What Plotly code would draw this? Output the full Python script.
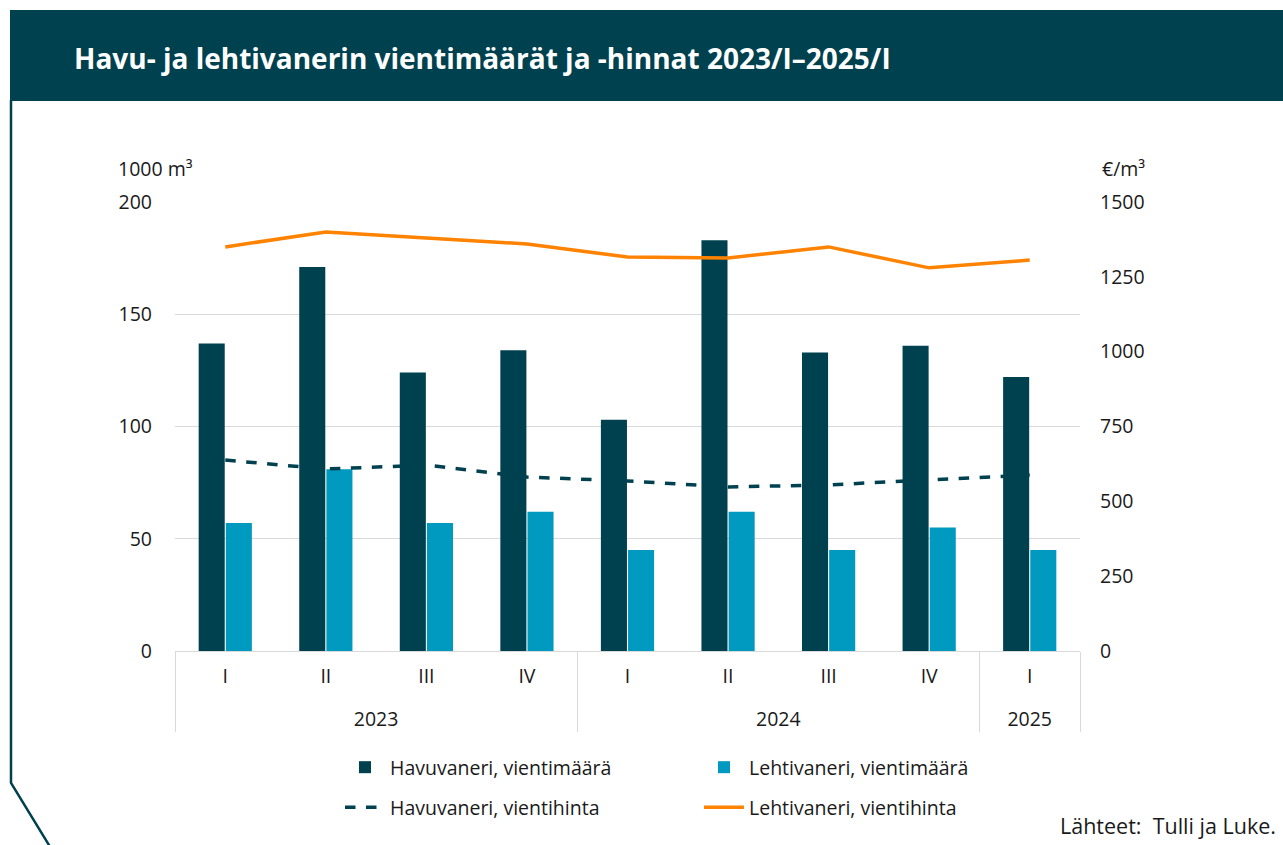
import plotly.graph_objects as go

years = ["2023", "2023", "2023", "2023", "2024", "2024", "2024", "2024", "2025"]
quarters = ["I", "II", "III", "IV", "I", "II", "III", "IV", "I"]
havu_maara = [137, 171, 124, 134, 103, 183, 133, 136, 122]
lehti_maara = [57, 81, 57, 62, 45, 62, 45, 55, 45]
havu_hinta = [638, 608, 621, 581, 568, 548, 555, 571, 588]
lehti_hinta = [1350, 1400, 1380, 1360, 1316, 1313, 1350, 1280, 1306]
left_ticks = [0, 50, 100, 150, 200]
right_ticks = [0, 250, 500, 750, 1000, 1250, 1500]

W, H = 1283, 845
L, R, T, B = 175, 1080, 202, 651
DARK = "#004150"
LIGHT = "#0099BF"
ORANGE = "#FF8200"
FONT = "Open Sans"
FS = 19.5

def px(xp):
    return (xp - L) / (R - L)

def py(yp):
    return (B - yp) / (B - T)

# quarter labels get an extra small blank line so that the year row sits lower
x = [years, [q + "<br><span style='font-size:8px'>\u00a0</span>" for q in quarters]]
fig = go.Figure()
fig.add_trace(go.Bar(x=x, y=havu_maara, name="Havuvaneri, vientimäärä",
                     marker=dict(color=DARK, line=dict(width=0)), legend="legend"))
fig.add_trace(go.Bar(x=x, y=lehti_maara, name="Lehtivaneri, vientimäärä",
                     marker=dict(color=LIGHT, line=dict(width=0)), legend="legend"))
fig.add_trace(go.Scatter(x=x, y=havu_hinta, name="Havuvaneri, vientihinta", yaxis="y2",
                         mode="lines", line=dict(color=DARK, width=3.5, dash="dash"),
                         legend="legend2"))
fig.add_trace(go.Scatter(x=x, y=lehti_hinta, name="Lehtivaneri, vientihinta", yaxis="y2",
                         mode="lines", line=dict(color=ORANGE, width=3.5),
                         legend="legend2"))

fig.update_layout(
    width=W, height=H,
    margin=dict(l=L, r=W - R, t=T, b=H - B, autoexpand=False),
    paper_bgcolor="white", plot_bgcolor="white",
    font=dict(family=FONT, size=FS, color="#1a1a1a"),
    barmode="group", bargap=0.46, bargroupgap=0.04,
    xaxis=dict(type="multicategory", showline=True, linecolor="#d9d9d9", linewidth=1,
               showdividers=True, dividercolor="#d9d9d9", dividerwidth=1,
               tickfont=dict(size=FS), ticks="", showgrid=False, ticklabelstandoff=8),
    yaxis=dict(range=[0, 200], tickvals=left_ticks, showgrid=True, gridcolor="#d9d9d9",
               zeroline=False, ticks="", ticklabelstandoff=22, tickfont=dict(size=FS)),
    yaxis2=dict(range=[0, 1500], tickvals=right_ticks, overlaying="y", side="right",
                showgrid=False, zeroline=False, ticks="", ticklabelstandoff=19,
                tickfont=dict(size=FS)),
    legend=dict(orientation="h", x=px(340), y=py(748), xanchor="left", yanchor="top",
                entrywidth=304, entrywidthmode="pixels", font=dict(size=FS),
                itemwidth=40, tracegroupgap=0, bgcolor="rgba(0,0,0,0)"),
    legend2=dict(orientation="h", x=px(340), y=py(788), xanchor="left", yanchor="top",
                 entrywidth=304, entrywidthmode="pixels", font=dict(size=FS),
                 itemwidth=40, tracegroupgap=0, bgcolor="rgba(0,0,0,0)"),
    showlegend=True,
)

shapes = [
    dict(type="rect", xref="paper", yref="paper", x0=px(10), x1=px(1290), y0=py(101), y1=py(10),
         fillcolor=DARK, line=dict(width=0), layer="below"),
    dict(type="path", xref="paper", yref="paper",
         path=f"M {px(11)} {py(100)} L {px(11)} {py(783)} L {px(52)} {py(850)}",
         line=dict(color=DARK, width=2.5)),
]
fig.update_layout(shapes=shapes)

annotations = [
    dict(text="<b>Havu- ja lehtivanerin vientimäärät ja -hinnat 2023/I–2025/I</b>",
         xref="paper", yref="paper", x=px(72), y=py(58), xanchor="left", yanchor="middle",
         showarrow=False, font=dict(size=28, color="white", family=FONT)),
    dict(text="1000 m³", xref="paper", yref="paper", x=px(116), y=py(168),
         xanchor="left", yanchor="middle", showarrow=False, font=dict(size=FS)),
    dict(text="€/m³", xref="paper", yref="paper", x=px(1100), y=py(168),
         xanchor="left", yanchor="middle", showarrow=False, font=dict(size=FS)),
    dict(text="Lähteet:  Tulli ja Luke.", xref="paper", yref="paper", x=px(1058), y=py(825),
         xanchor="left", yanchor="middle", showarrow=False, font=dict(size=21.5)),
]
fig.update_layout(annotations=annotations)

fig.write_html("out.html", config={"displayModeBar": False},
               post_script="document.body.style.margin='0';")
